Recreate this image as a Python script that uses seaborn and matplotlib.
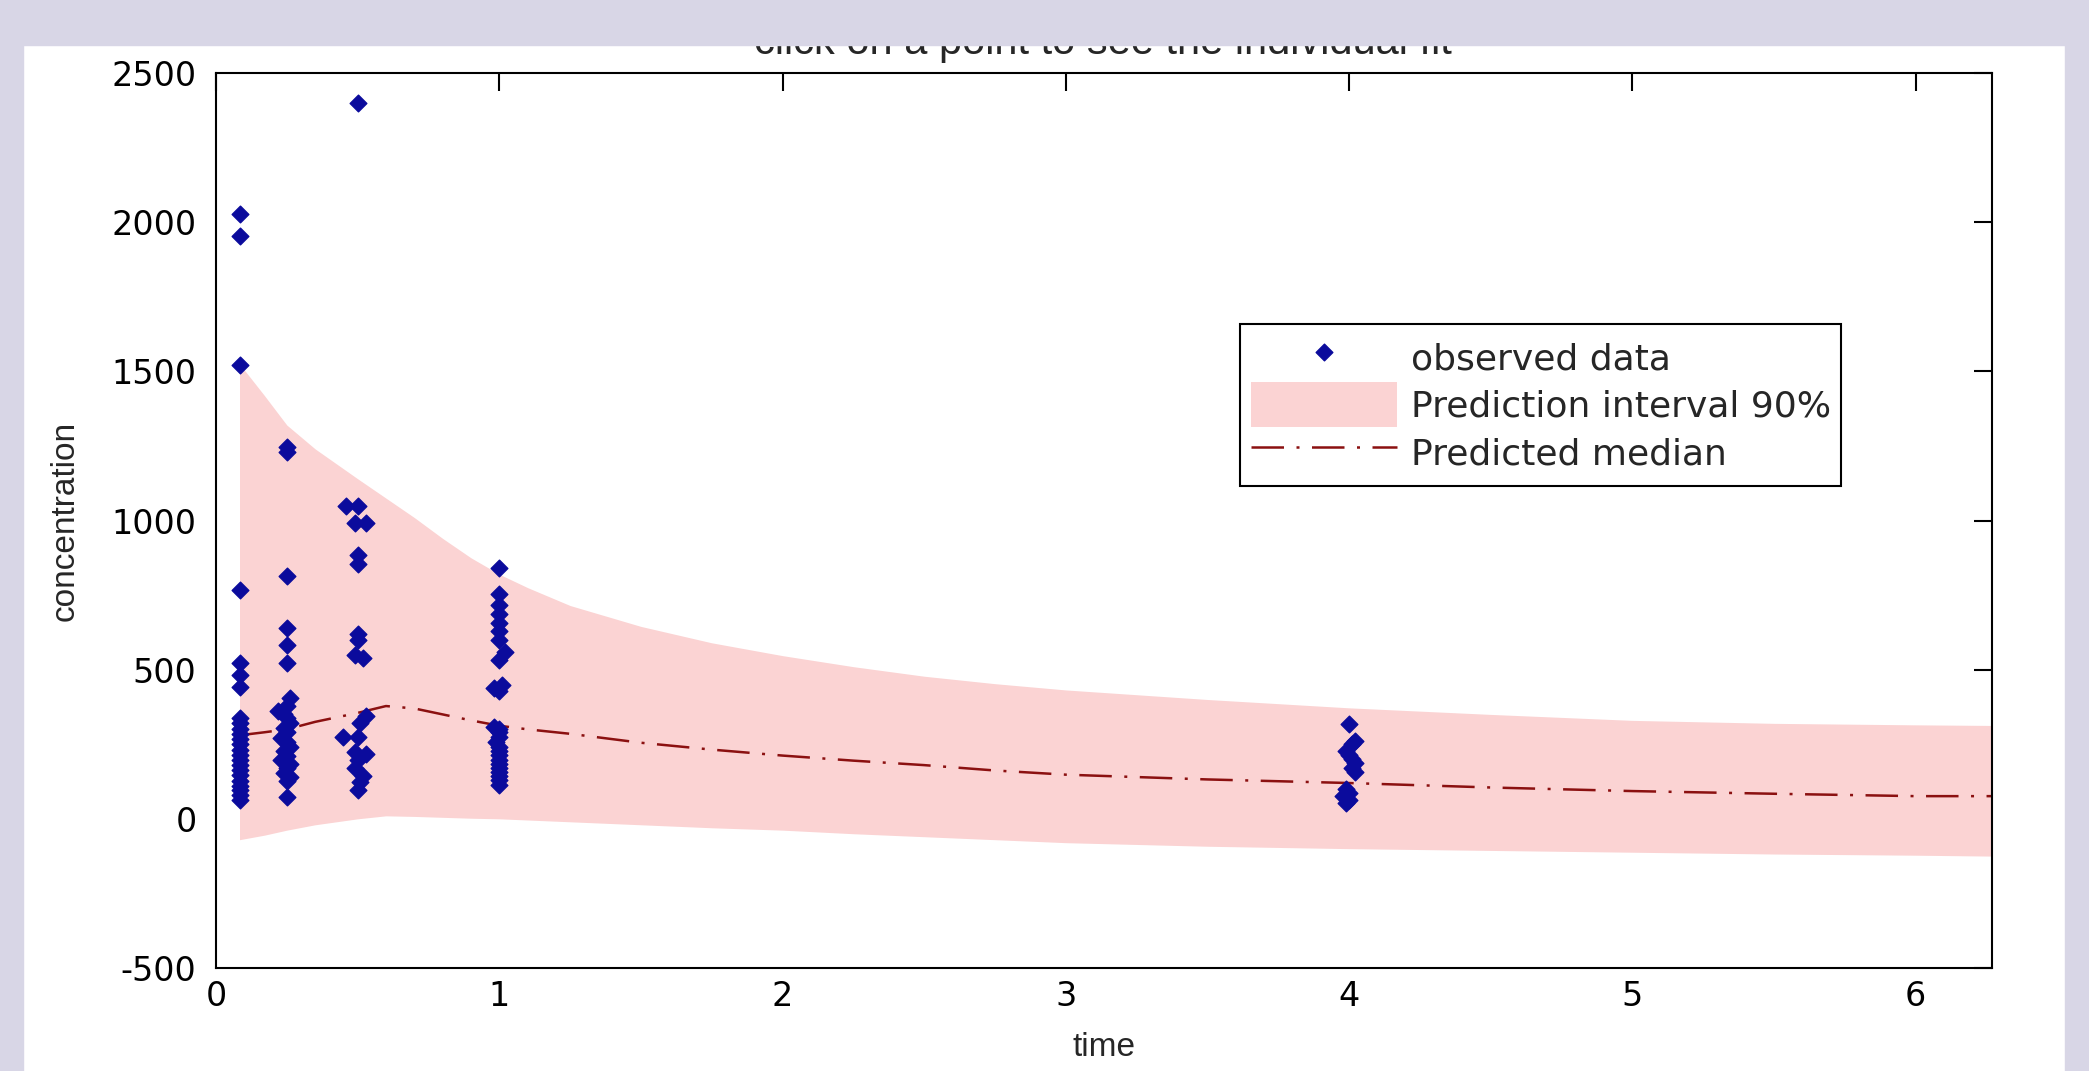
import matplotlib.pyplot as plt
import matplotlib.patches as mpatches
import pandas as pd
import seaborn as sb
import numpy as np

sb.set_style("white")
plt.rcParams['font.family'] = ['DejaVu Sans']
plt.rcParams['axes.unicode_minus'] = False

# observed data (time, concentration), read column by column
obs_time = ([0.083] * 24
            + [0.25, 0.25, 0.25, 0.25, 0.25, 0.25, 0.26, 0.25, 0.22, 0.24, 0.25, 0.26, 0.24,
               0.25, 0.23, 0.25, 0.26, 0.24, 0.25, 0.23, 0.26, 0.25, 0.24, 0.26, 0.25, 0.25]
            + [0.5, 0.46, 0.5, 0.49, 0.53, 0.5, 0.5, 0.5, 0.5, 0.49, 0.52, 0.53, 0.51, 0.45,
               0.5, 0.49, 0.53, 0.5, 0.49, 0.52, 0.51, 0.5]
            + [1.0, 1.0, 1.0, 1.0, 1.0, 1.0, 1.0, 1.02, 1.0, 1.01, 0.98, 1.0, 0.98, 1.0, 1.0,
               1.0, 0.99, 1.0, 1.0, 1.0, 1.0, 1.0, 1.0, 1.0, 1.0, 1.0, 1.0]
            + [4.0, 4.02, 4.01, 3.99, 4.0, 4.01, 4.02, 4.01, 4.02, 3.99, 4.0, 3.98, 4.0, 3.99])
obs_conc = ([2028, 1955, 1522, 766, 524, 483, 441, 337, 320, 302, 285, 268, 250, 232,
             215, 198, 180, 163, 146, 128, 111, 95, 80, 64]
            + [1245, 1228, 814, 640, 581, 524, 404, 378, 360, 352, 338, 320, 306, 290, 272,
               256, 240, 226, 212, 198, 184, 170, 154, 140, 126, 73]
            + [2400, 1050, 1048, 990, 990, 885, 855, 620, 598, 550, 540, 343, 320, 275, 275,
               225, 218, 197, 170, 145, 124, 98]
            + [841, 752, 718, 685, 655, 628, 600, 560, 532, 448, 440, 428, 309, 300, 290, 275,
               258, 242, 228, 213, 198, 185, 170, 157, 143, 129, 112]
            + [317, 262, 250, 228, 215, 200, 188, 172, 158, 100, 88, 75, 62, 52])

# prediction band and median
pred_time = [0.083, 0.17, 0.25, 0.35, 0.5, 0.6, 0.7, 0.8, 0.9, 1.0, 1.1, 1.25, 1.5, 1.75,
             2.0, 2.25, 2.5, 2.75, 3.0, 3.5, 4.0, 4.5, 5.0, 5.5, 6.0, 6.27]
pred_upper = [1525, 1420, 1320, 1240, 1140, 1075, 1010, 940, 875, 820, 775, 715, 645, 590,
              547, 510, 478, 453, 432, 400, 372, 350, 330, 320, 315, 313]
pred_lower = [-70, -55, -38, -20, 0, 10, 8, 5, 2, 0, -4, -10, -20, -30, -38, -50, -60, -70,
              -80, -92, -100, -106, -112, -118, -122, -125]
pred_median = [280, 290, 300, 325, 355, 378, 370, 350, 330, 312, 300, 285, 255, 232, 212,
               195, 180, 162, 148, 132, 120, 105, 93, 84, 76, 76]

xticks = [0, 1, 2, 3, 4, 5, 6]
yticks = [-500, 0, 500, 1000, 1500, 2000, 2500]

obs = pd.DataFrame({"time": obs_time, "concentration": obs_conc})
pred = pd.DataFrame({"time": pred_time, "median": pred_median})

fig = plt.figure(figsize=(20.89, 10.71), dpi=100)
fig.patch.set_facecolor("white")
ax = fig.add_axes([0.1034, 0.0962, 0.8502, 0.8356])

ax.fill_between(pred_time, pred_lower, pred_upper, color="#fbd3d3", linewidth=0,
                label="Prediction interval 90%", zorder=1)
sb.lineplot(data=pred, x="time", y="median", ax=ax, color="#8b1010", linewidth=1.8,
            linestyle=(0, (13, 5, 1.2, 5)), label="Predicted median", zorder=2)
sb.scatterplot(data=obs, x="time", y="concentration", ax=ax, marker="D", s=72,
               color="#0b0b9c", edgecolor="#0b0b9c", linewidth=1,
               label="observed data", zorder=3)

ax.set_xlim(0, 6.27)
ax.set_ylim(-500, 2500)
ax.set_xticks(xticks)
ax.set_yticks(yticks)
ax.tick_params(direction="in", length=13, width=1.5, top=True, right=True,
               labelsize=24, colors="black")
ax.tick_params(axis="y", pad=14)
ax.tick_params(axis="x", pad=9)
for sp in ax.spines.values():
    sp.set_visible(True)
    sp.set_color("black")
    sp.set_linewidth(1.5)

lab_font = ["Liberation Sans", "DejaVu Sans"]
ax.set_xlabel("time", fontsize=24, family=lab_font, labelpad=13)
ax.set_ylabel("concentration", fontsize=24, family=lab_font, labelpad=22)

handles, labels = ax.get_legend_handles_labels()
order = [labels.index(l) for l in ["observed data", "Prediction interval 90%", "Predicted median"]]
leg = ax.legend([handles[i] for i in order], [labels[i] for i in order],
                loc="upper left", bbox_to_anchor=(0.5766, 0.7196), fontsize=26,
                frameon=True, fancybox=False, framealpha=1, edgecolor="black",
                handlelength=4.05, handleheight=1.55, handletextpad=0.37,
                labelspacing=0.06, borderpad=0.3, scatterpoints=1, borderaxespad=0)
leg.get_frame().set_linewidth(1.5)

# title, partly hidden under the window border
fig.text(0.528, 0.9495, "click on a point to see the individual fit", ha="center",
         va="baseline", fontsize=30, family=lab_font, zorder=3)

# window border strips
border = "#d8d6e6"
fig.patches.append(mpatches.Rectangle((0, 0.958), 1, 0.042, transform=fig.transFigure,
                                      color=border, zorder=10))
fig.patches.append(mpatches.Rectangle((0, 0), 0.011, 1, transform=fig.transFigure,
                                      color=border, zorder=10))
fig.patches.append(mpatches.Rectangle((0.9885, 0), 0.0115, 1, transform=fig.transFigure,
                                      color=border, zorder=10))

fig.savefig("out.png", dpi=100, facecolor=fig.get_facecolor())
